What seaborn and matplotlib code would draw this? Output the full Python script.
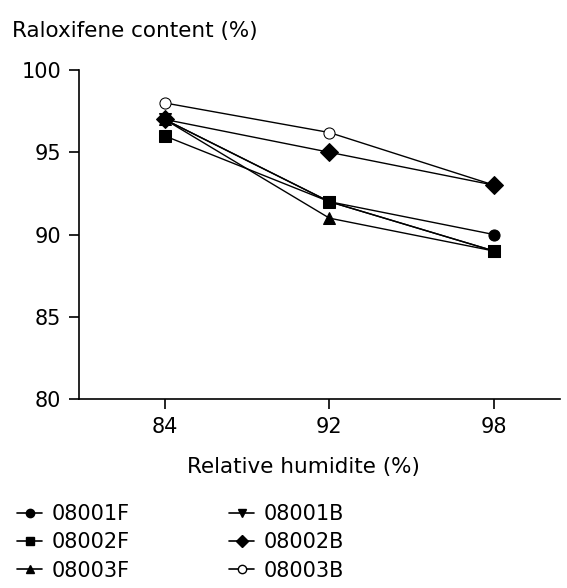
import numpy as np
import pandas as pd
import matplotlib.pyplot as plt
import seaborn as sns
from matplotlib.lines import Line2D

sns.set_style("ticks")
plt.rcParams['font.family'] = ['DejaVu Sans']
plt.rcParams['text.color'] = 'black'

# data
humidity = ["84", "92", "98"]
batches = ["08001F", "08002F", "08003F", "08001B", "08002B", "08003B"]
v_08001F = [97, 92, 90]
v_08002F = [96, 92, 89]
v_08003F = [97, 91, 89]
v_08001B = [97, 92, 89]
v_08002B = [97, 95, 93]
v_08003B = [98, 96.2, 93]
values = [v_08001F, v_08002F, v_08003F, v_08001B, v_08002B, v_08003B]

marker_map = {"08001F": "o", "08002F": "s", "08003F": "^",
              "08001B": "v", "08002B": "D", "08003B": "o"}

rows = []
for b, vals in zip(batches, values):
    for i, v in enumerate(vals):
        rows.append({"batch": b, "pos": i, "content": v})
df = pd.DataFrame(rows)

fig = plt.figure(figsize=(5.67, 5.88), dpi=100)
ax = fig.add_axes([0.139, 0.321, 0.849, 0.56])

sns.lineplot(data=df, x="pos", y="content", style="batch", style_order=batches,
             markers=marker_map, dashes=False, color="black", linewidth=1.0,
             markersize=8, markeredgecolor="black", legend=False, ax=ax)

# open circle for 08003B, diamond drawn above it
lines = ax.get_lines()
lines[5].set_markerfacecolor("white")
lines[4].set_markersize(9.5)
lines[4].set_zorder(5)

ax.set_xlim(-0.52, 2.4)
ax.set_ylim(80, 100)
ax.set_xticks(range(len(humidity)))
ax.set_xticklabels(humidity)
ax.set_yticks([80, 85, 90, 95, 100])
ax.tick_params(direction="out", length=7.5, width=1.2, labelsize=15,
               colors="black", pad=5)
for s in ["left", "bottom"]:
    ax.spines[s].set_linewidth(1.2)
    ax.spines[s].set_color("black")
sns.despine(ax=ax)
ax.set_xlabel("")
ax.set_ylabel("")

fig.text(0.021, 0.948, "Raloxifene content (%)", fontsize=15.5, va="center", ha="left")
fig.text(0.536, 0.205, "Relative humidite (%)", fontsize=15.5, va="center", ha="center")

handles = []
for b in batches:
    fc = "white" if b == "08003B" else "black"
    handles.append(Line2D([], [], color="black", marker=marker_map[b], markersize=6,
                          markerfacecolor=fc, markeredgecolor="black", linewidth=1.2))
fig.legend(handles, batches, ncol=2,
           loc="upper left", bbox_to_anchor=(0.03, 0.143), frameon=False,
           fontsize=15, handlelength=1.2, handletextpad=0.48, columnspacing=4.75,
           labelspacing=0.4, borderaxespad=0, borderpad=0)

plt.savefig("out.png", dpi=100)
